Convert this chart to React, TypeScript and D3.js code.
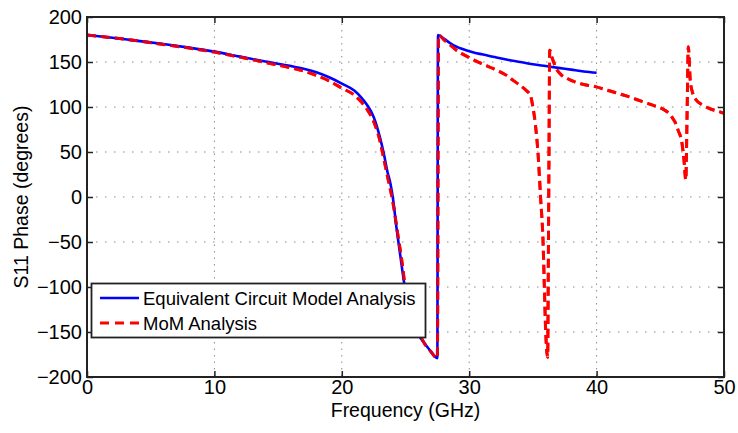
import * as React from "react";
import * as d3 from "d3";

// Equivalent circuit model (blue, solid): [GHz, degrees]
const circuitFreq = [0, 2, 4, 6, 8, 10, 12, 14, 16, 17, 18, 19, 20, 21, 21.5, 22, 22.5, 23, 23.3, 23.6, 23.8, 24, 24.3, 24.6, 24.9, 25.2, 25.6, 26, 26.3, 26.9, 27.5, 27.55, 28, 28.5, 29, 30, 31, 32, 33, 34, 35, 36, 37, 38, 39, 40];
const circuitPhase = [180, 177, 173.5, 170, 166, 161.5, 156, 150.5, 145.5, 142.5, 138.5, 133, 126, 118, 111, 102, 89, 66, 48, 27, 16, 0, -35, -66, -96, -120, -140, -153, -159, -170, -179, 180, 176, 171, 167, 162, 158.5, 155.5, 152.5, 150, 147.5, 145.5, 143.5, 141.5, 139.5, 138];

// MoM analysis (red, dashed)
const momFreq = [0, 2, 4, 6, 8, 10, 12, 14, 16, 17, 18, 19, 20, 21, 21.5, 22, 22.5, 23, 23.2, 23.6, 24, 24.4, 24.8, 25, 25.5, 26, 26.5, 27, 27.5, 27.6, 28, 28.5, 29, 30, 31, 32, 33, 33.5, 34, 34.5, 34.8, 35, 35.2, 35.4, 35.6, 35.8, 35.9, 36, 36.1, 36.16, 36.2, 36.26, 36.32, 36.5, 36.9, 37.2, 37.65, 38.7, 39.9, 41, 42.4, 43.5, 44.4, 45.1, 45.6, 45.9, 46.2, 46.4, 46.7, 46.86, 47, 47.1, 47.2, 47.35, 47.55, 47.8, 48.35, 49, 49.6, 50];
const momPhase = [180, 177, 173.5, 169.5, 165.5, 161, 155.5, 149.5, 143.5, 140, 135, 129, 121, 113, 106, 97, 84, 62, 49, 22, -5, -42, -80, -104, -132, -150, -163, -172, -179, 180, 175, 169, 163, 155, 148, 142, 134.5, 129, 124, 118, 113, 100, 80, 49, 0, -51, -100, -148, -173, -178, -100, 40, 163, 155, 141, 136, 132, 126, 122.6, 118, 112, 106.5, 102, 98.5, 94, 89, 82, 74, 60, 41, 19, 90, 167, 130, 115, 108, 102, 97.5, 95, 93];

const xTicks = [0, 10, 20, 30, 40, 50];
const yTicks = [-200, -150, -100, -50, 0, 50, 100, 150, 200];
const legendLabels = ["Equivalent Circuit Model Analysis", "MoM Analysis"];

const W = 738;
const H = 433;
const font = "'Liberation Sans', Arial, Helvetica, sans-serif";

function drawChart(svgRef) {
  const svg = d3.select(svgRef.current);
  svg.selectAll("*").remove();

  const left = 87, right = 724, top = 17, bottom = 377;

  const x = d3.scaleLinear().domain([0, 50]).range([left, right]);
  const y = d3.scaleLinear().domain([-200, 200]).range([bottom, top]);

  // grid
  const grid = svg.append("g").attr("stroke", "#8a8a8a").attr("stroke-width", 1);
  grid
    .selectAll("line.vg")
    .data(xTicks.slice(1, -1))
    .enter()
    .append("line")
    .attr("x1", (d) => x(d))
    .attr("x2", (d) => x(d))
    .attr("y1", top)
    .attr("y2", bottom)
    .attr("stroke-dasharray", "1.5,5");
  grid
    .selectAll("line.hg")
    .data(yTicks.slice(1, -1))
    .enter()
    .append("line")
    .attr("x1", left)
    .attr("x2", right)
    .attr("y1", (d) => y(d))
    .attr("y2", (d) => y(d))
    .attr("stroke-dasharray", "1.5,7.5");

  // axes with inward ticks
  const xAxis = d3.axisBottom(x).tickValues(xTicks).tickSize(-6).tickSizeOuter(0).tickPadding(3);
  const yAxis = d3.axisLeft(y).tickValues(yTicks).tickSize(-6).tickSizeOuter(0).tickPadding(5)
    .tickFormat((d) => (d < 0 ? "\u2212" + Math.abs(d) : String(d)));

  const gx = svg.append("g").attr("transform", `translate(0,${bottom})`).call(xAxis);
  const gy = svg.append("g").attr("transform", `translate(${left},0)`).call(yAxis);
  const gt = svg.append("g").attr("transform", `translate(0,${top})`)
    .call(d3.axisTop(x).tickValues(xTicks).tickSize(-6).tickSizeOuter(0).tickFormat(() => ""));
  const gr = svg.append("g").attr("transform", `translate(${right},0)`)
    .call(d3.axisRight(y).tickValues(yTicks).tickSize(-6).tickSizeOuter(0).tickFormat(() => ""));

  [gx, gy, gt, gr].forEach((g) => {
    g.select(".domain").remove();
    g.selectAll(".tick line").attr("stroke", "#222").attr("stroke-width", 1.5);
    g.selectAll(".tick text")
      .attr("fill", "#000")
      .style("font-family", font)
      .style("font-size", "20px");
  });

  // data lines
  const line = d3
    .line()
    .curve(d3.curveMonotoneX)
    .x((d) => x(d[0]))
    .y((d) => y(d[1]));

  const momPts = momFreq.map((f, i) => [f, momPhase[i]]);

  svg
    .append("path")
    .attr("d", line(momPts))
    .attr("fill", "none")
    .attr("stroke", "#ff0000")
    .attr("stroke-width", 3)
    .attr("stroke-dasharray", "9,5");

  svg
    .append("path")
    .attr("d", line(circuitFreq.map((f, i) => [f, circuitPhase[i]])))
    .attr("fill", "none")
    .attr("stroke", "#0000ff")
    .attr("stroke-width", 2.6);

  svg
    .append("path")
    .attr("d", line(momPts))
    .attr("fill", "none")
    .attr("stroke", "#ff0000")
    .attr("stroke-width", 3)
    .attr("stroke-dasharray", "9,5")
    .attr("opacity", 0.85);

  // box
  svg
    .append("rect")
    .attr("x", left)
    .attr("y", top)
    .attr("width", right - left)
    .attr("height", bottom - top)
    .attr("fill", "none")
    .attr("stroke", "#222")
    .attr("stroke-width", 2);

  // axis labels
  svg
    .append("text")
    .attr("x", (left + right) / 2)
    .attr("y", 417)
    .attr("text-anchor", "middle")
    .style("font-family", font)
    .style("font-size", "19.5px")
    .text("Frequency (GHz)");

  svg
    .append("text")
    .attr("transform", `translate(28,${(top + bottom) / 2}) rotate(-90)`)
    .attr("text-anchor", "middle")
    .style("font-family", font)
    .style("font-size", "19.5px")
    .text("S11 Phase (degrees)");

  // legend
  const lg = svg.append("g");
  lg.append("rect")
    .attr("x", 91.5)
    .attr("y", 283.5)
    .attr("width", 334)
    .attr("height", 54)
    .attr("fill", "#fff")
    .attr("stroke", "#222")
    .attr("stroke-width", 1.8);

  const legendColors = ["#0000ff", "#ff0000"];
  legendLabels.forEach((label, i) => {
    const ly = 298 + i * 25;
    lg.append("line")
      .attr("x1", 100)
      .attr("x2", 139)
      .attr("y1", ly)
      .attr("y2", ly)
      .attr("stroke", legendColors[i])
      .attr("stroke-width", i === 0 ? 2.6 : 3)
      .attr("stroke-dasharray", i === 0 ? null : "9,6");
    lg.append("text")
      .attr("x", 143)
      .attr("y", ly + 6.5)
      .style("font-family", font)
      .style("font-size", "18.5px")
      .text(label);
  });
}

const App = () => {
  const svg = React.useRef(null);
  React.useEffect(() => {
    drawChart(svg);
  }, [svg]);

  return (
    <svg
      ref={svg}
      width={W}
      height={H}
      style={{ position: "absolute", left: 0, top: 0, background: "#fff" }}
    />
  );
};

export default App;
